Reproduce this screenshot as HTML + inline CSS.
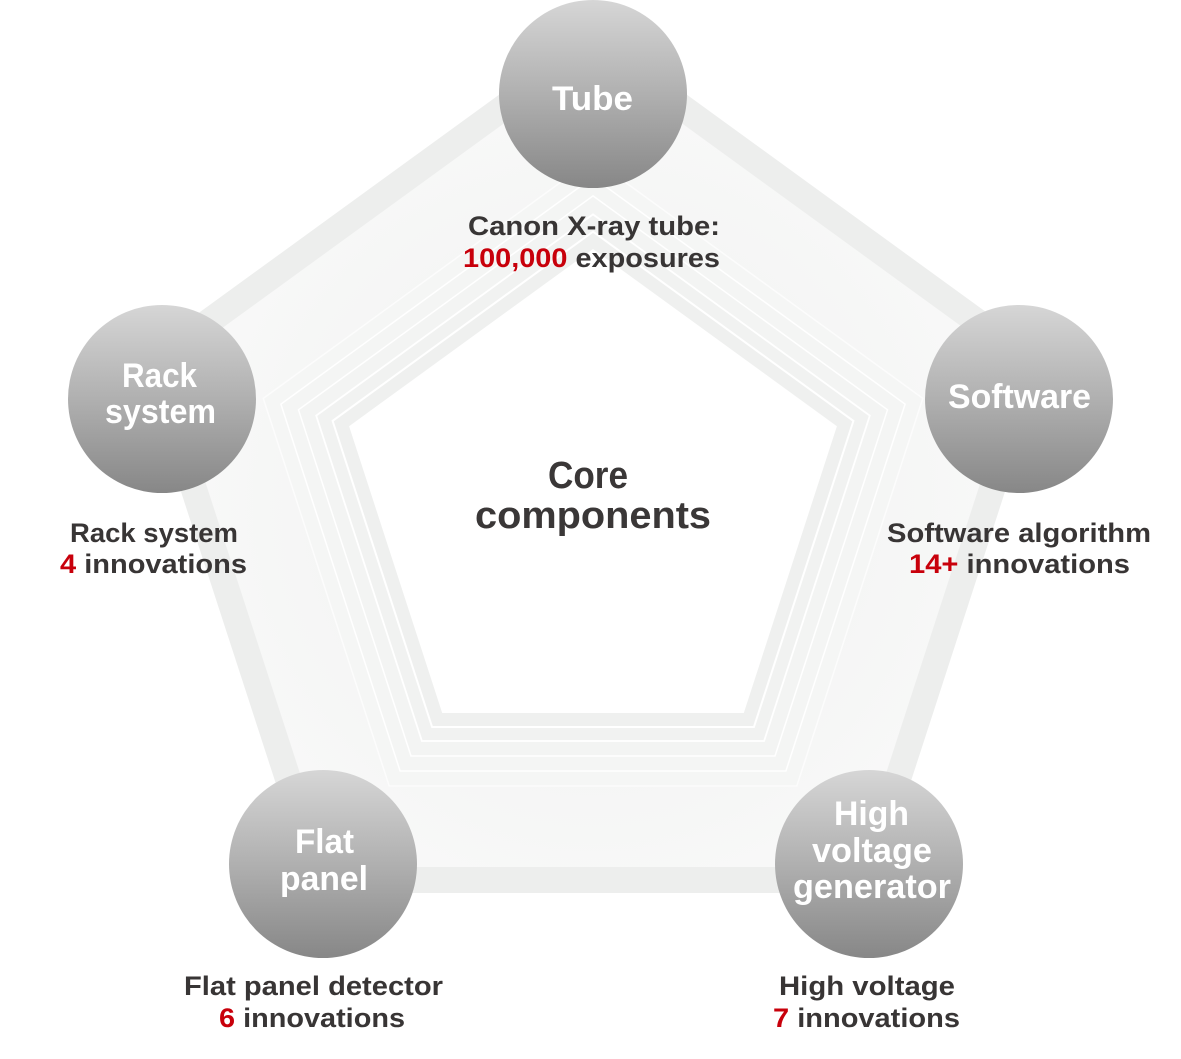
<!DOCTYPE html>
<html>
<head>
<meta charset="utf-8">
<style>
  html, body { margin: 0; padding: 0; background: #ffffff; }
  body { width: 1181px; height: 1059px; overflow: hidden; }
  svg { display: block; }
  .ct { font-family: "Liberation Sans", Arial, sans-serif; font-weight: bold; font-size: 34px; fill: #ffffff; }
  .lb { font-family: "Liberation Sans", Arial, sans-serif; font-weight: bold; font-size: 27px; fill: #383535; }
  .rd { fill: #c8000b; }
  .core { font-family: "Liberation Sans", Arial, sans-serif; font-weight: bold; font-size: 38px; fill: #3a3737; }
</style>
</head>
<body>
<svg width="1181" height="1059" viewBox="0 0 1181 1059" xmlns="http://www.w3.org/2000/svg">
  <defs>
    <linearGradient id="cg" x1="0" y1="0" x2="0" y2="1">
      <stop offset="0" stop-color="#d6d6d6"/>
      <stop offset="0.5" stop-color="#b0b0b0"/>
      <stop offset="1" stop-color="#878787"/>
    </linearGradient>
    <radialGradient id="fg" cx="593" cy="505" r="450" gradientUnits="userSpaceOnUse">
      <stop offset="0.5" stop-color="#f4f5f4"/>
      <stop offset="1" stop-color="#f9f9f9"/>
    </radialGradient>
  </defs>

  <!-- outer band -->
  <polygon points="593,26.5 1048.6,357.5 874.6,893 311.4,893 137.4,357.5" fill="#edeeed"/>
  <!-- inner fill area -->
  <polygon points="593,58.7 1017.9,367.4 855.6,867 330.4,867 168.1,367.4" fill="url(#fg)"/>

  <!-- nested layers -->
  <polygon points="593,158.8 922.8,398.4 796.8,786 389.2,786 263.3,398.4" fill="#f5f6f5" stroke="#fcfcfc" stroke-width="1.5"/>
  <polygon points="593,177.3 905.1,404.1 785.9,771 400.1,771 280.9,404.1" fill="#f4f5f4" stroke="#ffffff" stroke-width="1.5"/>
  <polygon points="593,195.9 887.5,409.8 775,756 411,756 298.5,409.8" fill="#f3f4f3" stroke="#ffffff" stroke-width="1.5"/>
  <polygon points="593,214.4 869.8,415.6 764.1,741 421.9,741 316.2,415.6" fill="#f1f2f1" stroke="#ffffff" stroke-width="1.8"/>
  <polygon points="593,231.7 853.4,420.9 753.9,727 432.1,727 332.6,420.9" fill="#eff0ef" stroke="#ffffff" stroke-width="2"/>
  <polygon points="593,249 836.9,426.2 743.8,713 442.2,713 349.1,426.2" fill="#ffffff"/>

  <!-- circles -->
  <circle cx="593" cy="94" r="94" fill="url(#cg)"/>
  <circle cx="162" cy="399" r="94" fill="url(#cg)"/>
  <circle cx="1019" cy="399" r="94" fill="url(#cg)"/>
  <circle cx="323" cy="864" r="94" fill="url(#cg)"/>
  <circle cx="869" cy="864" r="94" fill="url(#cg)"/>

  <!-- circle labels -->
  <text class="ct" x="552" y="110" textLength="81" lengthAdjust="spacingAndGlyphs">Tube</text>
  <text class="ct" x="122" y="387" textLength="75" lengthAdjust="spacingAndGlyphs">Rack</text>
  <text class="ct" x="105" y="423" textLength="111" lengthAdjust="spacingAndGlyphs">system</text>
  <text class="ct" x="948" y="408" textLength="143" lengthAdjust="spacingAndGlyphs">Software</text>
  <text class="ct" x="295" y="853" textLength="59" lengthAdjust="spacingAndGlyphs">Flat</text>
  <text class="ct" x="280" y="890" textLength="88" lengthAdjust="spacingAndGlyphs">panel</text>
  <text class="ct" x="834" y="825" textLength="75" lengthAdjust="spacingAndGlyphs">High</text>
  <text class="ct" x="812" y="862" textLength="120" lengthAdjust="spacingAndGlyphs">voltage</text>
  <text class="ct" x="793" y="898" textLength="158" lengthAdjust="spacingAndGlyphs">generator</text>

  <!-- center -->
  <text class="core" x="548" y="488" textLength="80" lengthAdjust="spacingAndGlyphs">Core</text>
  <text class="core" x="475" y="528" textLength="236" lengthAdjust="spacingAndGlyphs">components</text>

  <!-- description labels -->
  <text class="lb" x="468" y="235" textLength="252" lengthAdjust="spacingAndGlyphs">Canon X-ray tube:</text>
  <text class="lb" x="463" y="267" textLength="257" lengthAdjust="spacingAndGlyphs"><tspan class="rd">100,000</tspan> exposures</text>

  <text class="lb" x="70" y="542" textLength="168" lengthAdjust="spacingAndGlyphs">Rack system</text>
  <text class="lb" x="60" y="573" textLength="187" lengthAdjust="spacingAndGlyphs"><tspan class="rd">4</tspan> innovations</text>

  <text class="lb" x="887" y="542" textLength="264" lengthAdjust="spacingAndGlyphs">Software algorithm</text>
  <text class="lb" x="909" y="573" textLength="221" lengthAdjust="spacingAndGlyphs"><tspan class="rd">14+</tspan> innovations</text>

  <text class="lb" x="184" y="995" textLength="259" lengthAdjust="spacingAndGlyphs">Flat panel detector</text>
  <text class="lb" x="219" y="1027" textLength="186" lengthAdjust="spacingAndGlyphs"><tspan class="rd">6</tspan> innovations</text>

  <text class="lb" x="779" y="995" textLength="176" lengthAdjust="spacingAndGlyphs">High voltage</text>
  <text class="lb" x="773" y="1027" textLength="187" lengthAdjust="spacingAndGlyphs"><tspan class="rd">7</tspan> innovations</text>
</svg>
</body>
</html>
